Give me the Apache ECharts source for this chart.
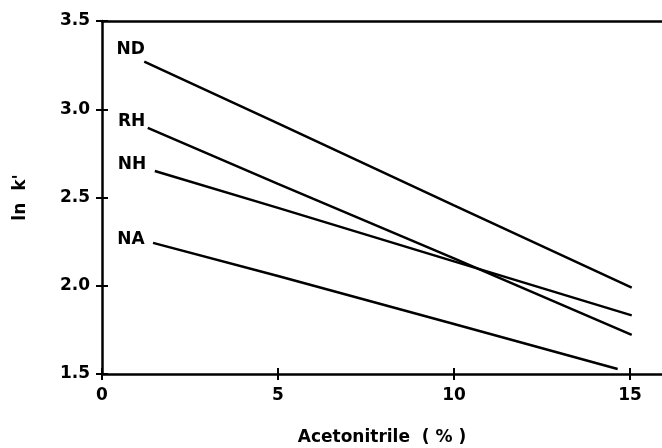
<!DOCTYPE html>
<html>
<head>
<meta charset="utf-8">
<script src="https://cdn.jsdelivr.net/npm/echarts@6/dist/echarts.min.js"></script>
<style>
  html, body { margin: 0; padding: 0; background: #fff; }
  #chart { width: 662px; height: 448px; }
</style>
</head>
<body>
<div id="chart"></div>
<script>
// Retention (ln k') versus acetonitrile content, one straight line per solute
const seriesNames = ['ND', 'RH', 'NH', 'NA'];
const ndPoints = [[1.2, 3.27], [5, 2.92], [10, 2.455], [15.05, 1.99]];
const rhPoints = [[1.3, 2.895], [5, 2.577], [10, 2.155], [15.05, 1.722]];
const nhPoints = [[1.5, 2.65], [5, 2.441], [10, 2.138], [15.05, 1.832]];
const naPoints = [[1.45, 2.243], [5, 2.055], [10, 1.783], [14.65, 1.528]];
const xTicks = [0, 5, 10, 15];
const yTicks = [1.5, 2.0, 2.5, 3.0, 3.5];

const allPoints = [ndPoints, rhPoints, nhPoints, naPoints];
// pixel offsets of each name tag relative to its line's first point
const tagOffsets = [[1, -12], [-2, -6], [-8, -6], [-8, -3]];

const FONT = 'DejaVu Sans';
const INK = '#000';

const baseText = { fontFamily: FONT, fontWeight: 'bold', fontSize: 17, color: INK };

const xCommon = {
  type: 'value', min: 0, max: 15.91, interval: 5,
  splitLine: { show: false }
};
const yCommon = {
  type: 'value', min: yTicks[0], max: yTicks[yTicks.length - 1], interval: 0.5,
  splitLine: { show: false }
};

const option = {
  backgroundColor: '#fff',
  animation: false,
  grid: { left: 102, right: 0, top: 21, bottom: 74, containLabel: false, outerBoundsMode: 'none' },
  xAxis: [
    Object.assign({}, xCommon, {
      position: 'bottom',
      name: 'Acetonitrile  ( % )',
      nameLocation: 'middle',
      nameGap: 55,
      nameTextStyle: baseText,
      axisLine: { onZero: false, lineStyle: { color: INK, width: 2.5 } },
      axisTick: { inside: false, length: 6, customValues: xTicks, lineStyle: { color: INK, width: 2 } },
      axisLabel: Object.assign({}, baseText, {
        margin: 13,
        customValues: xTicks,
        formatter: v => String(v)
      })
    }),
    Object.assign({}, xCommon, {
      position: 'bottom',
      axisLine: { show: false, onZero: false },
      axisTick: { inside: true, length: 6, customValues: xTicks, lineStyle: { color: INK, width: 2 } },
      axisLabel: { show: false }
    }),
    Object.assign({}, xCommon, {
      position: 'top',
      axisLine: { onZero: false, lineStyle: { color: INK, width: 2.5 } },
      axisTick: { show: false },
      axisLabel: { show: false }
    })
  ],
  yAxis: [
    Object.assign({}, yCommon, {
      position: 'left',
      name: "ln  k'",
      nameLocation: 'middle',
      nameRotate: 90,
      nameGap: 73,
      nameTextStyle: baseText,
      axisLine: { onZero: false, lineStyle: { color: INK, width: 2.5 } },
      axisTick: { inside: false, length: 6, lineStyle: { color: INK, width: 2 } },
      axisLabel: Object.assign({}, baseText, {
        margin: 12,
        formatter: v => v.toFixed(1)
      })
    }),
    Object.assign({}, yCommon, {
      position: 'left',
      axisLine: { show: false, onZero: false },
      axisTick: { inside: true, length: 6, lineStyle: { color: INK, width: 2 } },
      axisLabel: { show: false }
    })
  ],
  series: allPoints.map((pts, i) => ({
    name: seriesNames[i],
    type: 'line',
    xAxisIndex: 0,
    yAxisIndex: 0,
    data: pts,
    symbol: 'none',
    smooth: false,
    lineStyle: { color: INK, width: 2.5 },
    z: 3
  })).concat([{
    name: 'tags',
    type: 'scatter',
    xAxisIndex: 0,
    yAxisIndex: 0,
    symbolSize: 1,
    itemStyle: { color: 'rgba(0,0,0,0)', opacity: 1 },
    data: allPoints.map((pts, i) => ({
      name: seriesNames[i],
      value: pts[0],
      label: {
        show: true,
        position: 'left',
        distance: 0,
        offset: tagOffsets[i],
        formatter: '{b}',
        fontFamily: FONT, fontWeight: 'bold', fontSize: 17, color: INK
      }
    })),
    z: 4
  }])
};

const chart = echarts.init(document.getElementById('chart'), null, { renderer: 'canvas' });
chart.setOption(option);
</script>
</body>
</html>
